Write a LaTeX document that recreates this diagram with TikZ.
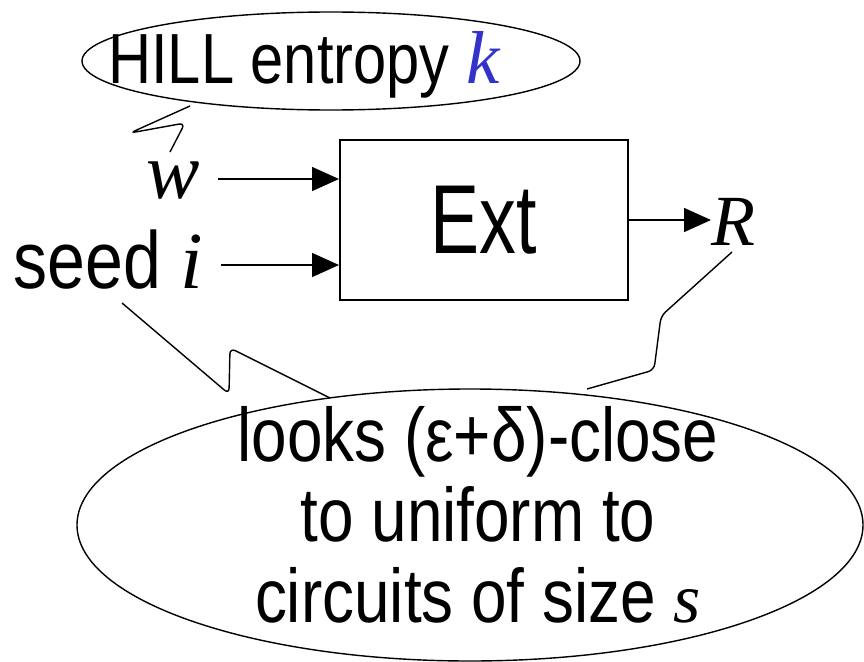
\documentclass[tikz,border=0pt]{standalone}
\usepackage{fontspec}
\setmainfont[FakeStretch=0.84]{Liberation Sans}
\newfontfamily\extfont[FakeStretch=0.75]{Liberation Sans}
\newfontfamily\seriffont{Liberation Serif}
\usepackage{xcolor}
\usetikzlibrary{arrows.meta,shapes,positioning,calc}
\definecolor{hillblue}{RGB}{51,51,204}
\newcommand{\var}[1]{{\seriffont\itshape #1}}

\begin{document}
\begin{tikzpicture}[x=1pt,y=-1pt,>={Triangle[length=27pt,width=24pt]},
every node/.style={inner sep=0pt},
bubble/.style={draw,ellipse,line width=1.4pt},
big/.style={font=\fontsize{76}{80.5}\selectfont},
link/.style={line width=1.4pt},
squiggle/.style={line width=1.4pt,rounded corners=6pt}]
\useasboundingbox (0,0) rectangle (864,661);
% bubbles
\node[bubble,minimum width=498pt,minimum height=98pt] (hill) at (331,61) {};
\node[anchor=base west,font=\fontsize{71}{71}\selectfont] (hilltext) at (108,83)
{HILL entropy \textcolor{hillblue}{\fontsize{75}{75}\selectfont\var{k}}};
\node[bubble,minimum width=786pt,minimum height=272pt] (close) at (470,525) {};
\node[big,align=center,anchor=base] (closetext) at (478,622)
{looks (ε+δ)-close\\to uniform to\\circuits of size {\fontsize{70}{70}\selectfont\var{s}}};
% extractor
\node[draw,line width=2pt,minimum width=288pt,minimum height=160pt,
font=\extfont\fontsize{98}{98}\selectfont] (ext) at (484,220) {Ext};
\node[anchor=base east,font=\fontsize{80}{80}\selectfont] (w) at (200,198) {\var{w}};
\node[anchor=base east,font=\fontsize{81}{81}\selectfont] (seed) at (203,288) {seed \var{i}};
\node[anchor=base west,font=\fontsize{72}{72}\selectfont] (r) at (711,245) {\var{R}};
\coordinate (win) at (218,179);
\coordinate (sin) at (221,265);
\draw[link,->] (win) -- (win -| ext.west);
\draw[link,->] (sin) -- (sin -| ext.west);
\draw[link,->] (ext.east) -- (ext.east -| r.west);
% squiggles
\coordinate (hilltail) at (190,106);
\coordinate (wtip) at (170,152);
\coordinate (seedtip) at (122,303);
\coordinate (seedtail) at (330,398);
\coordinate (rtip) at (732,252);
\coordinate (rtail) at (587,389);
\draw[squiggle] (hilltail) -- (130,133) -- (185,123) -- (wtip);
\draw[squiggle] (seedtip) -- (229,394) -- (230,348) -- (seedtail);
\draw[squiggle] (rtip) -- (661,316) -- (654,370) -- (rtail);
\end{tikzpicture}
\end{document}
